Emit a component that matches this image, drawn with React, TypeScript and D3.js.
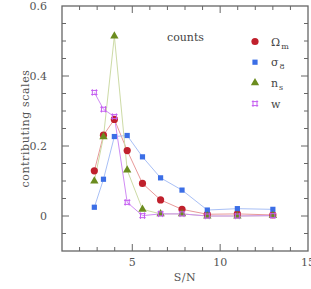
import React, { useEffect, useRef } from 'react';
import * as d3 from 'd3';

// S/N bin centres
const snBins = [2.84, 3.36, 3.98, 4.71, 5.58, 6.61, 7.83, 9.27, 10.98, 13.0];

// contribution of each scale, per parameter
const omegaM = [0.129, 0.231, 0.276, 0.187, 0.093, 0.046, 0.019, 0.005, 0.006, 0.003];
const sigma8 = [0.025, 0.105, 0.227, 0.230, 0.169, 0.109, 0.074, 0.017, 0.021, 0.019];
const nS = [0.100, 0.226, 0.514, 0.131, 0.019, 0.006, 0.006, 0.0, 0.0, 0.001];
const wDE = [0.353, 0.305, 0.284, 0.039, 0.001, 0.006, 0.006, 0.0, 0.0, 0.001];

const xTicks = [5, 10, 15];
const yTicks = [0, 0.2, 0.4, 0.6];
const yTickLabels = ['0', '0.2', '0.4', '0.6'];

const series = [
  { key: 'om', values: omegaM, sym: 'circle', mark: '#c0202c', line: '#e89a9a', label: 'Ω', sub: 'm' },
  { key: 's8', values: sigma8, sym: 'square', mark: '#3b6ee6', line: '#a9c0f6', label: 'σ', sub: '8' },
  { key: 'ns', values: nS, sym: 'triangle', mark: '#6b8c1e', line: '#cddba6', label: 'n', sub: 's' },
  { key: 'w', values: wDE, sym: 'cross', mark: '#c55ef0', line: '#d08cf4', label: 'w', sub: '' },
];

const FONT = '"DejaVu Serif", serif';
const AXIS = '#666';
const TEXT = '#555';

function drawSymbol(g: any, sym: string, color: string) {
  if (sym === 'circle') {
    g.append('circle').attr('r', 3.6).attr('fill', color);
  } else if (sym === 'square') {
    g.append('rect').attr('x', -2.6).attr('y', -2.6).attr('width', 5.2).attr('height', 5.2).attr('fill', color);
  } else if (sym === 'triangle') {
    g.append('path').attr('d', d3.symbol(d3.symbolTriangle, 30)()).attr('fill', color);
  } else {
    // open square with extended edges
    g.append('path')
      .attr('d', 'M-3.2,-2H3.2M-3.2,2H3.2M-2,-3.2V3.2M2,-3.2V3.2')
      .attr('stroke', color).attr('stroke-width', 1).attr('fill', 'none');
  }
}

export default function App() {
  const ref = useRef<SVGSVGElement>(null);

  useEffect(() => {
    const svg = d3.select(ref.current);
    svg.selectAll('*').remove();

    const left = 62, right = 308, top = 6, bottom = 251;
    const x = d3.scaleLinear().domain([1, 15]).range([left, right]);
    const y = d3.scaleLinear().domain([-0.1, 0.6]).range([bottom, top]);

    // frame
    svg.append('rect')
      .attr('x', left).attr('y', top)
      .attr('width', right - left).attr('height', bottom - top)
      .attr('fill', 'none').attr('stroke', AXIS).attr('stroke-width', 1.3);

    const ticks = svg.append('g').attr('stroke', AXIS).attr('stroke-width', 1);
    d3.range(2, 15, 1).forEach(v => {
      const len = xTicks.includes(v) ? 7 : 4;
      ticks.append('line').attr('x1', x(v)).attr('x2', x(v)).attr('y1', bottom).attr('y2', bottom - len);
      ticks.append('line').attr('x1', x(v)).attr('x2', x(v)).attr('y1', top).attr('y2', top + len);
    });
    d3.range(-0.05, 0.6, 0.05).forEach(v => {
      const major = yTicks.some(t => Math.abs(t - v) < 1e-6);
      const len = major ? 7 : 4;
      ticks.append('line').attr('x1', left).attr('x2', left + len).attr('y1', y(v)).attr('y2', y(v));
      ticks.append('line').attr('x1', right).attr('x2', right - len).attr('y1', y(v)).attr('y2', y(v));
    });

    svg.append('g').selectAll('text').data(xTicks).enter().append('text')
      .attr('x', d => x(d)).attr('y', 266)
      .attr('text-anchor', 'middle')
      .attr('font-family', FONT).attr('font-size', 11).attr('fill', TEXT)
      .text(d => String(d));

    svg.append('g').selectAll('text').data(yTicks).enter().append('text')
      .attr('x', 47).attr('y', d => y(d) + 4)
      .attr('text-anchor', 'end')
      .attr('font-family', FONT).attr('font-size', 11).attr('fill', TEXT)
      .text((d, i) => yTickLabels[i]);

    svg.append('text')
      .attr('x', (left + right) / 2).attr('y', 281)
      .attr('text-anchor', 'middle')
      .attr('font-family', FONT).attr('font-size', 11).attr('fill', TEXT)
      .attr('letter-spacing', 0.6)
      .text('S/N');

    svg.append('text')
      .attr('transform', `translate(29,${(top + bottom) / 2}) rotate(-90)`)
      .attr('text-anchor', 'middle')
      .attr('font-family', FONT).attr('font-size', 11).attr('fill', TEXT)
      .attr('letter-spacing', 0.6)
      .text('contributing scales');

    svg.append('text')
      .attr('x', 167).attr('y', 41)
      .attr('font-family', FONT).attr('font-size', 11).attr('fill', '#444')
      .text('counts');

    const line = d3.line<number>()
      .x((d, i) => x(snBins[i]))
      .y(d => y(d));

    series.forEach(s => {
      svg.append('path')
        .attr('d', line(s.values))
        .attr('fill', 'none')
        .attr('stroke', s.line)
        .attr('stroke-width', 1);
    });
    series.forEach(s => {
      s.values.forEach((v, i) => {
        const g = svg.append('g').attr('transform', `translate(${x(snBins[i])},${y(v)})`);
        drawSymbol(g, s.sym, s.mark);
      });
    });

    // legend
    series.forEach((s, i) => {
      const ly = 41.5 + i * 20.7;
      const g = svg.append('g').attr('transform', `translate(255,${ly})`);
      drawSymbol(g, s.sym, s.mark);
      const t = svg.append('text')
        .attr('x', 271).attr('y', ly + 4)
        .attr('font-family', FONT).attr('font-size', 11).attr('fill', '#444');
      t.append('tspan').text(s.label);
      if (s.sub) {
        t.append('tspan').attr('dy', 3).attr('dx', 1).attr('font-size', 8).text(s.sub);
      }
    });
  }, []);

  return (
    <svg
      ref={ref}
      width={311}
      height={289}
      style={{ position: 'absolute', left: 0, top: 0, background: '#fff' }}
    />
  );
}
